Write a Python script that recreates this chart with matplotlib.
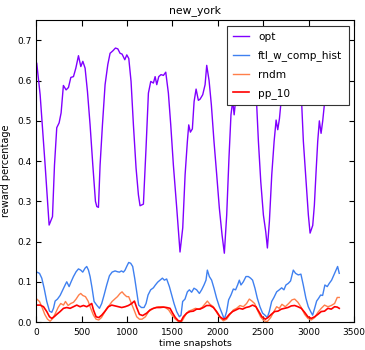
import matplotlib
matplotlib.use('Agg')
import matplotlib.pyplot as plt

# values
opt_x = [7, 44, 99, 143, 180, 202, 227, 253, 275, 300, 330, 356, 382, 411, 437, 466, 492, 514, 539, 565,
         594, 624, 653, 668, 686, 704, 730, 759, 789, 814, 844, 873, 899, 924, 946, 976, 998, 1020, 1045, 1071,
         1100, 1126, 1144, 1181, 1210, 1236, 1262, 1291, 1310, 1328, 1350, 1375, 1401, 1427, 1456, 1482, 1511,
         1548, 1584, 1614, 1640, 1665, 1680, 1698, 1720, 1739, 1761, 1786, 1805, 1834, 1860, 1878, 1904, 1929,
         1958, 1988, 2017, 2047, 2072, 2098, 2123, 2145, 2164, 2180, 2200, 2250, 2300, 2350, 2400, 2428, 2447,
         2473, 2502, 2528, 2546, 2568, 2594, 2620, 2642, 2660, 2679, 2693, 2740, 2800, 2860, 2900, 2924, 2942,
         2972, 2997, 3016, 3045, 3063, 3082, 3100, 3118, 3137, 3155, 3173, 3220, 3280, 3340]
opt_y = [0.643, 0.565, 0.39, 0.241, 0.262, 0.39, 0.483, 0.495, 0.52, 0.588, 0.577, 0.583, 0.608, 0.61, 0.631,
         0.662, 0.635, 0.648, 0.631, 0.573, 0.49, 0.39, 0.30, 0.287, 0.285, 0.39, 0.49, 0.59, 0.64, 0.668, 0.674,
         0.681, 0.679, 0.668, 0.666, 0.652, 0.664, 0.655, 0.598, 0.49, 0.383, 0.316, 0.289, 0.293, 0.433, 0.569,
         0.598, 0.594, 0.61, 0.59, 0.61, 0.615, 0.613, 0.621, 0.569, 0.49, 0.39, 0.283, 0.174, 0.234, 0.366,
         0.449, 0.49, 0.472, 0.48, 0.548, 0.579, 0.551, 0.554, 0.565, 0.59, 0.638, 0.6, 0.54, 0.449, 0.366,
         0.283, 0.216, 0.171, 0.266, 0.408, 0.515, 0.55, 0.515, 0.56, 0.6, 0.62, 0.61, 0.58, 0.54, 0.449, 0.349,
         0.266, 0.224, 0.184, 0.25, 0.366, 0.449, 0.502, 0.478, 0.506, 0.54, 0.6, 0.63, 0.62, 0.58, 0.54, 0.449,
         0.349, 0.266, 0.221, 0.24, 0.29, 0.374, 0.449, 0.50, 0.469, 0.50, 0.54, 0.59, 0.61, 0.62]

ftl_x = [7, 37, 62, 88, 117, 147, 172, 191, 209, 235, 264, 293, 319, 337, 363, 385, 411, 440, 466, 491, 513,
         539, 557, 576, 594, 616, 638, 667, 697, 722, 748, 777, 807, 836, 869, 895, 917, 939, 961, 979, 997,
         1019, 1041, 1063, 1085, 1107, 1129, 1159, 1188, 1210, 1232, 1261, 1291, 1313, 1338, 1364, 1390, 1412,
         1437, 1467, 1492, 1518, 1547, 1577, 1595, 1613, 1639, 1665, 1687, 1712, 1738, 1767, 1797, 1822, 1848,
         1870, 1885, 1907, 1932, 1958, 1987, 2017, 2046, 2072, 2097, 2119, 2145, 2171, 2196, 2218, 2237, 2255,
         2281, 2310, 2336, 2361, 2383, 2409, 2435, 2464, 2493, 2519, 2545, 2567, 2593, 2618, 2648, 2677, 2703,
         2728, 2750, 2776, 2801, 2831, 2856, 2886, 2915, 2941, 2970, 2996, 3022, 3044, 3066, 3088, 3110, 3132,
         3154, 3179, 3205, 3227, 3253, 3278, 3300, 3319, 3337]
ftl_y = [0.124, 0.121, 0.109, 0.084, 0.051, 0.027, 0.024, 0.034, 0.052, 0.057, 0.066, 0.080, 0.092, 0.100,
         0.088, 0.100, 0.113, 0.125, 0.132, 0.129, 0.124, 0.134, 0.138, 0.129, 0.113, 0.084, 0.051, 0.042, 0.034,
         0.046, 0.067, 0.092, 0.115, 0.124, 0.127, 0.125, 0.124, 0.127, 0.124, 0.129, 0.138, 0.148, 0.146, 0.138,
         0.109, 0.075, 0.042, 0.036, 0.036, 0.046, 0.067, 0.080, 0.085, 0.092, 0.099, 0.104, 0.109, 0.104, 0.107,
         0.088, 0.067, 0.046, 0.026, 0.013, 0.017, 0.051, 0.057, 0.075, 0.080, 0.074, 0.084, 0.080, 0.071, 0.080,
         0.092, 0.104, 0.129, 0.113, 0.104, 0.084, 0.059, 0.038, 0.022, 0.007, 0.026, 0.055, 0.067, 0.082, 0.080,
         0.092, 0.104, 0.092, 0.100, 0.113, 0.113, 0.109, 0.104, 0.084, 0.059, 0.038, 0.022, 0.017, 0.011, 0.026,
         0.051, 0.061, 0.075, 0.080, 0.085, 0.080, 0.092, 0.096, 0.102, 0.129, 0.121, 0.117, 0.119, 0.092, 0.059,
         0.038, 0.026, 0.017, 0.034, 0.052, 0.059, 0.067, 0.066, 0.092, 0.088, 0.096, 0.104, 0.117, 0.129, 0.138,
         0.121]

rndm_x = [7, 37, 66, 95, 125, 154, 183, 213, 242, 271, 301, 323, 352, 381, 411, 440, 469, 491, 513, 543, 572,
          601, 631, 660, 689, 719, 748, 777, 807, 836, 865, 895, 924, 946, 968, 997, 1019, 1049, 1078, 1107, 1137,
          1166, 1203, 1239, 1276, 1313, 1349, 1386, 1423, 1459, 1496, 1533, 1569, 1606, 1643, 1679, 1716, 1753,
          1789, 1826, 1863, 1885, 1914, 1951, 1987, 2024, 2061, 2097, 2134, 2171, 2207, 2244, 2281, 2317, 2347,
          2376, 2405, 2435, 2471, 2508, 2545, 2582, 2618, 2648, 2677, 2706, 2743, 2780, 2817, 2846, 2882, 2919,
          2956, 2992, 3029, 3066, 3102, 3139, 3175, 3212, 3249, 3286, 3315, 3337]
rndm_y = [0.057, 0.051, 0.036, 0.019, 0.007, 0.002, 0.009, 0.022, 0.036, 0.046, 0.042, 0.051, 0.041, 0.046,
          0.049, 0.057, 0.067, 0.071, 0.066, 0.063, 0.052, 0.034, 0.017, 0.007, 0.005, 0.011, 0.022, 0.034, 0.042,
          0.051, 0.057, 0.063, 0.071, 0.075, 0.069, 0.063, 0.063, 0.046, 0.030, 0.013, 0.007, 0.007, 0.013, 0.026,
          0.032, 0.036, 0.038, 0.038, 0.036, 0.030, 0.017, 0.007, 0.001, 0.002, 0.017, 0.027, 0.030, 0.034, 0.032,
          0.036, 0.046, 0.052, 0.044, 0.038, 0.024, 0.011, 0.003, 0.007, 0.019, 0.030, 0.034, 0.041, 0.038, 0.046,
          0.057, 0.052, 0.046, 0.030, 0.013, 0.003, 0.001, 0.011, 0.026, 0.038, 0.034, 0.044, 0.038, 0.046, 0.055,
          0.057, 0.049, 0.036, 0.019, 0.009, 0.005, 0.011, 0.024, 0.034, 0.042, 0.038, 0.041, 0.046, 0.061, 0.061]

pp_x = [7, 44, 81, 117, 147, 172, 198, 227, 264, 301, 337, 374, 411, 447, 484, 521, 557, 587, 612, 631, 660,
        689, 722, 759, 796, 832, 869, 906, 942, 979, 1016, 1052, 1082, 1107, 1137, 1173, 1217, 1254, 1291, 1327,
        1364, 1401, 1437, 1474, 1503, 1533, 1566, 1595, 1621, 1657, 1694, 1731, 1767, 1804, 1841, 1877, 1914,
        1951, 1987, 2024, 2061, 2090, 2127, 2163, 2200, 2237, 2273, 2310, 2347, 2383, 2420, 2449, 2486, 2523,
        2552, 2589, 2626, 2662, 2699, 2736, 2772, 2809, 2846, 2882, 2919, 2956, 2992, 3029, 3066, 3102, 3139,
        3175, 3212, 3249, 3286, 3315, 3337]
pp_y = [0.042, 0.042, 0.038, 0.026, 0.013, 0.009, 0.013, 0.019, 0.026, 0.034, 0.036, 0.034, 0.038, 0.042,
        0.038, 0.041, 0.038, 0.042, 0.046, 0.030, 0.013, 0.011, 0.017, 0.027, 0.038, 0.042, 0.040, 0.038, 0.036,
        0.038, 0.041, 0.046, 0.052, 0.036, 0.019, 0.016, 0.022, 0.030, 0.034, 0.036, 0.036, 0.037, 0.036, 0.034,
        0.022, 0.011, 0.003, 0.002, 0.013, 0.022, 0.026, 0.027, 0.032, 0.032, 0.036, 0.041, 0.041, 0.036, 0.026,
        0.013, 0.007, 0.009, 0.019, 0.026, 0.030, 0.034, 0.032, 0.036, 0.038, 0.042, 0.038, 0.027, 0.013, 0.007,
        0.011, 0.019, 0.026, 0.027, 0.032, 0.034, 0.036, 0.040, 0.041, 0.038, 0.034, 0.024, 0.013, 0.009, 0.013,
        0.019, 0.026, 0.027, 0.034, 0.032, 0.038, 0.037, 0.034]

plt.rcParams['font.size'] = 6.5
plt.rcParams['xtick.direction'] = 'in'
plt.rcParams['ytick.direction'] = 'in'
plt.rcParams['xtick.top'] = True
plt.rcParams['ytick.right'] = True
plt.rcParams['xtick.major.size'] = 4.5
plt.rcParams['ytick.major.size'] = 3.5
plt.rcParams['xtick.major.pad'] = 4
plt.rcParams['ytick.major.pad'] = 3
plt.rcParams['axes.linewidth'] = 0.8

fig = plt.figure(figsize=(3.65, 3.5), dpi=100)
ax = fig.add_axes([0.099, 0.08, 0.871, 0.862])

ax.plot(opt_x, opt_y, color='#8000ff', lw=1.0, label='opt')
ax.plot(ftl_x, ftl_y, color='#3f80f0', lw=1.0, label='ftl_w_comp_hist')
ax.plot(rndm_x, rndm_y, color='#ff7f4a', lw=1.0, label='rndm')
ax.plot(pp_x, pp_y, color='#ff0000', lw=1.2, label='pp_10')

ax.set_xlim(0, 3500)
ax.set_ylim(0, 0.75)
ax.set_xticks([0, 500, 1000, 1500, 2000, 2500, 3000, 3500])
ax.set_yticks([0.0, 0.1, 0.2, 0.3, 0.4, 0.5, 0.6, 0.7])
ax.tick_params(labelsize=6.5)
ax.set_title('new_york', fontsize=7.8, pad=5)
ax.set_xlabel('time snapshots', fontsize=6.8, labelpad=2)
ax.set_ylabel('reward percentage', fontsize=7, labelpad=5)

leg = ax.legend(loc='upper right', fancybox=False, framealpha=1, edgecolor='#333333',
                fontsize=7.6, handlelength=1.5, handletextpad=0.9, labelspacing=0.8,
                borderpad=0.6, borderaxespad=0.5)
leg.get_frame().set_linewidth(0.8)

fig.savefig('out.png', dpi=100)
